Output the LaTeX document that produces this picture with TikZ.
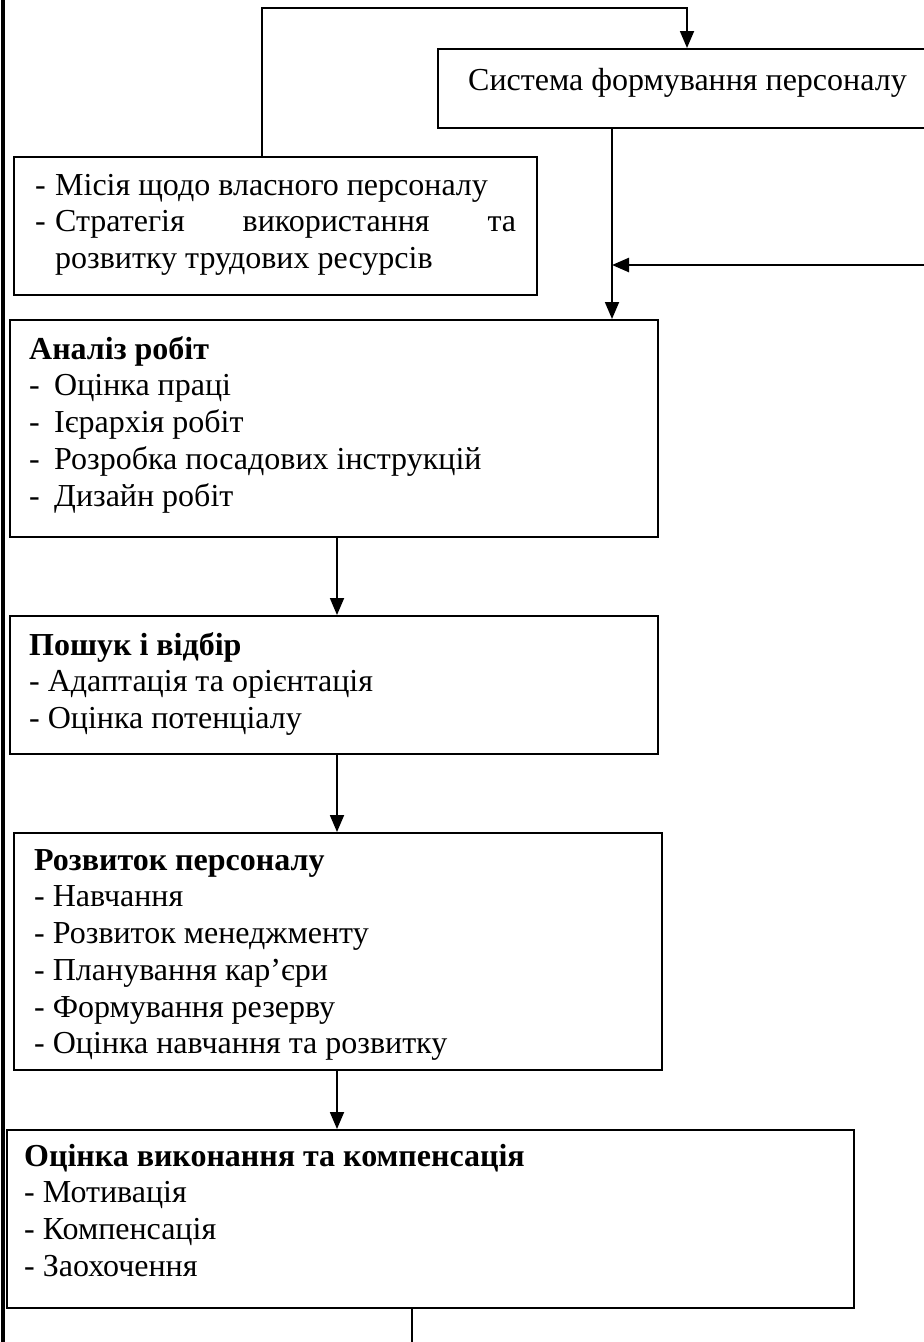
\documentclass[tikz,border=0pt]{standalone}
\usepackage{fontspec}
\setmainfont{Liberation Serif}
\usetikzlibrary{arrows.meta}

\tikzset{
  ramka/.style={draw, line width=1.8pt, anchor=north west, inner sep=0pt},
  tekst/.style={anchor=north west, inner sep=0pt, align=left, font=\fontsize{32}{36.7}\selectfont},
  strilka/.style={line width=1.8pt, -{Triangle[length=17pt,width=14pt]}},
  liniya/.style={line width=1.8pt},
}
\newcommand{\vys}{\rule{0pt}{30pt}}
\newcommand{\pnkt}[2]{\makebox[#1][l]{-}#2}

\begin{document}
\begin{tikzpicture}[x=1pt,y=-1pt]
    \useasboundingbox (0,0) rectangle (924,1342);
    \clip (0,0) rectangle (924,1342);
    % ramky
    \node[ramka, minimum width=520pt, minimum height=79pt] (systema) at (437,48) {};
    \node[ramka, minimum width=523pt, minimum height=138pt] (misiya) at (13,156) {};
    \node[ramka, minimum width=648pt, minimum height=217pt] (analiz) at (9,319) {};
    \node[ramka, minimum width=648pt, minimum height=138pt] (poshuk) at (9,615) {};
    \node[ramka, minimum width=648pt, minimum height=237pt] (rozvytok) at (13,832) {};
    \node[ramka, minimum width=847pt, minimum height=178pt] (ocinka) at (6,1129) {};
    % teksty
    \node[tekst] (systemaT) at (468,60) {\vys Система формування персоналу};
    \node[tekst] (misiyaT) at (35,165) {\vys\pnkt{20pt}{Місія щодо власного персоналу}\\
      \pnkt{20pt}{\makebox[461pt][s]{Стратегія використання та}}\\
      \hspace*{20pt}розвитку трудових ресурсів};
    \node[tekst] (analizT) at (29,329) {\vys\textbf{Аналіз робіт}\\
      \pnkt{25pt}{Оцінка праці}\\
      \pnkt{25pt}{Ієрархія робіт}\\
      \pnkt{25pt}{Розробка посадових інструкцій}\\
      \pnkt{25pt}{Дизайн робіт}};
    \node[tekst] (poshukT) at (29,625) {\vys\textbf{Пошук і відбір}\\
      - Адаптація та орієнтація\\
      - Оцінка потенціалу};
    \node[tekst] (rozvytokT) at (34,840) {\vys\textbf{Розвиток персоналу}\\
      - Навчання\\
      - Розвиток менеджменту\\
      - Планування кар’єри\\
      - Формування резерву\\
      - Оцінка навчання та розвитку};
    \node[tekst] (ocinkaT) at (24,1136) {\vys\textbf{Оцінка виконання та компенсація}\\
      - Мотивація\\
      - Компенсація\\
      - Заохочення};
    % oporni tochky
    \coordinate (v1) at (262,8);
    \coordinate (v2) at (687,8);
    \coordinate (s1) at (612,0);
    \coordinate (pravo) at (930,265);
    \coordinate (os) at (337,0);
    \coordinate (niz) at (412,1342);
    \coordinate (lv) at (3,0);
    \coordinate (ln) at (3,1342);
    % zv'yazky
    \draw[line width=4pt] (lv) -- (ln);
    \draw[strilka] (misiya.north -| v1) -- (v1) -- (v2) -- (systema.north -| v2);
    \draw[strilka] (systema.south -| s1) -- (analiz.north -| s1);
    \draw[strilka, line width=2.5pt] (pravo) -- (pravo -| s1);
    \draw[strilka] (analiz.south -| os) -- (poshuk.north -| os);
    \draw[strilka] (poshuk.south -| os) -- (rozvytok.north -| os);
    \draw[strilka] (rozvytok.south -| os) -- (ocinka.north -| os);
    \draw[liniya] (ocinka.south -| niz) -- (niz);
\end{tikzpicture}
\end{document}
